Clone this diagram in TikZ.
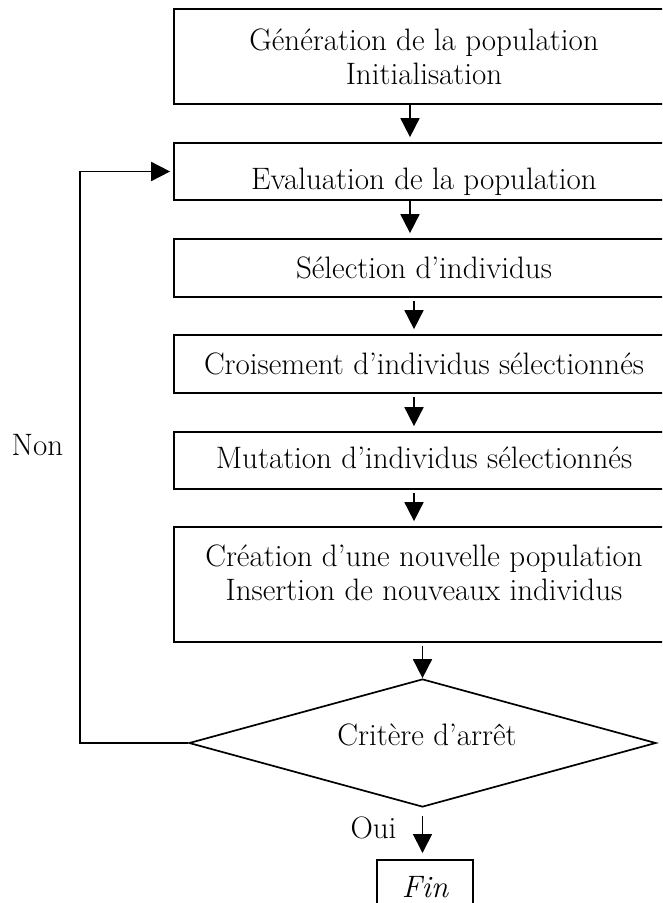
\documentclass[tikz,border=0pt]{standalone}
\usepackage{fontspec}
\usetikzlibrary{arrows.meta,shapes.geometric}
\begin{document}
\begin{tikzpicture}[x=1pt,y=-1pt,
  line width=1.7pt,
  every node/.style={font=\fontsize{31}{34}\selectfont},
  stepbox/.style={draw, rectangle, minimum width=500pt, inner xsep=0pt, inner ysep=0pt, align=center},
  decision/.style={draw, diamond, minimum width=467pt, minimum height=128pt, inner sep=0pt},
  flow/.style={-{Triangle[length=19pt,width=19pt]}, shorten >=5pt},
]
\useasboundingbox (0,0) rectangle (662,903);
\clip (0,0) rectangle (662,903);

% main sequence of steps
\node[stepbox, minimum height=95pt] (b1) at (424,56.5) {Génération de la population\\Initialisation};
\node[stepbox, minimum height=57pt, text height=42pt, text depth=7pt] (b2) at (424,171.5) {Evaluation de la population};
\node[stepbox, minimum height=58pt, text height=26pt, text depth=6pt] (b3) at (424,268) {Sélection d’individus};
\node[stepbox, minimum height=58pt, text height=26pt, text depth=6pt] (b4) at (424,364) {Croisement d’individus sélectionnés};
\node[stepbox, minimum height=57pt, text height=23pt, text depth=8pt] (b5) at (424,460.5) {Mutation d’individus sélectionnés};
\node[stepbox, minimum height=115pt] (b6) at (424,584.5) {};
\node[align=center, inner sep=0pt] (b6t) at ([yshift=12pt]b6.center) {Création d’une nouvelle population\\Insertion de nouveaux individus};

% stopping test and end
\node[decision] (dia) at (422.5,743) {};
\node[anchor=base] (diat) at (427,745) {Critère d’arrêt};
\node[draw, rectangle, anchor=north, minimum width=96pt, inner ysep=0pt, text height=38pt, text depth=50pt] (fin) at (425,859) {\itshape Fin};

% labels
\node[anchor=base] (non) at (37.5,455) {Non};
\node[anchor=base] (oui) at (373.5,838) {Oui};

% connectors
\draw[flow] ([xshift=-14pt]b1.south) -- ([xshift=-14pt]b2.north);
\draw[flow] ([xshift=-14pt]b2.south) -- ([xshift=-14pt]b3.north);
\draw[flow, shorten <=3pt] ([xshift=-10pt]b3.south) -- ([xshift=-10pt]b4.north);
\draw[flow, shorten <=3pt] ([xshift=-10pt]b4.south) -- ([xshift=-10pt]b5.north);
\draw[flow, shorten <=3pt] ([xshift=-10pt]b5.south) -- ([xshift=-10pt]b6.north);
\draw[flow, shorten <=3pt, shorten >=0pt] (b6.south -| dia.north) -- (dia.north);
\draw[flow, shorten <=8pt, shorten >=6pt] (dia.south) -- (dia.south |- fin.north);
\draw[flow, shorten >=3pt] (dia.west) -- ++(-108,0) |- (b2.west);
\end{tikzpicture}
\end{document}
